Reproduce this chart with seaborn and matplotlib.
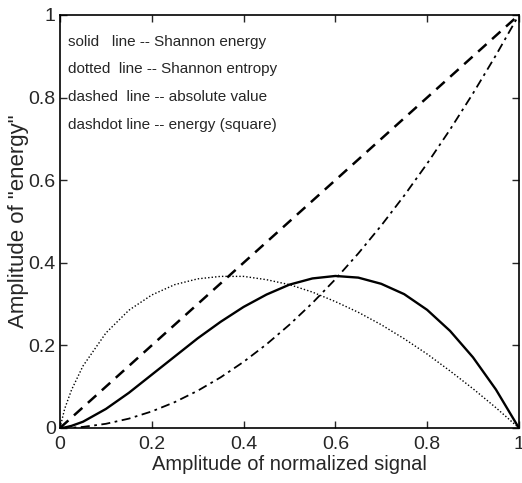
import matplotlib
matplotlib.use("Agg")
import matplotlib.pyplot as plt
import seaborn as sns
import pandas as pd
from matplotlib.ticker import FormatStrFormatter

# values
amplitude = [0, 0.01, 0.025, 0.05, 0.1, 0.15, 0.2, 0.25, 0.3, 0.35, 0.4, 0.45, 0.5,
             0.55, 0.6, 0.65, 0.7, 0.75, 0.8, 0.85, 0.9, 0.95, 1.0]
shannon_energy = [0, 0.001, 0.005, 0.015, 0.046, 0.085, 0.129, 0.173, 0.217, 0.257, 0.293,
                  0.323, 0.347, 0.362, 0.368, 0.364, 0.349, 0.324, 0.286, 0.235, 0.171, 0.093, 0]
shannon_entropy = [0, 0.046, 0.092, 0.150, 0.230, 0.285, 0.322, 0.347, 0.361, 0.367, 0.367,
                   0.359, 0.347, 0.329, 0.306, 0.280, 0.250, 0.216, 0.179, 0.138, 0.095, 0.049, 0]
absolute_value = [0, 0.01, 0.025, 0.05, 0.1, 0.15, 0.2, 0.25, 0.3, 0.35, 0.4, 0.45, 0.5,
                  0.55, 0.6, 0.65, 0.7, 0.75, 0.8, 0.85, 0.9, 0.95, 1.0]
energy_square = [0, 0.0001, 0.0006, 0.0025, 0.01, 0.0225, 0.04, 0.0625, 0.09, 0.1225, 0.16,
                 0.2025, 0.25, 0.3025, 0.36, 0.4225, 0.49, 0.5625, 0.64, 0.7225, 0.81, 0.9025, 1.0]

legend_lines = ["solid   line -- Shannon energy",
                "dotted  line -- Shannon entropy",
                "dashed  line -- absolute value",
                "dashdot line -- energy (square)"]

df = pd.DataFrame({"x": amplitude, "energy": shannon_energy, "entropy": shannon_entropy,
                   "absolute": absolute_value, "square": energy_square})

sns.set_style("ticks")
plt.rcParams["font.family"] = ["Liberation Sans", "DejaVu Sans"]

fig = plt.figure(figsize=(5.22, 4.83), dpi=100)
ax = fig.add_axes([0.115, 0.114, 0.879, 0.855])

sns.lineplot(data=df, x="x", y="energy", ax=ax, color="black", linewidth=1.7, linestyle="-")
sns.lineplot(data=df, x="x", y="entropy", ax=ax, color="black", linewidth=1.0, linestyle=(0, (1, 1.5)))
sns.lineplot(data=df, x="x", y="absolute", ax=ax, color="black", linewidth=1.8, linestyle=(0, (4.5, 3)))
sns.lineplot(data=df, x="x", y="square", ax=ax, color="black", linewidth=1.3, linestyle=(0, (5, 2.5, 1.5, 2.5)))

ax.set_xlim(0, 1)
ax.set_ylim(0, 1)
ax.set_xticks([0, 0.2, 0.4, 0.6, 0.8, 1])
ax.set_yticks([0, 0.2, 0.4, 0.6, 0.8, 1])
ax.xaxis.set_major_formatter(FormatStrFormatter("%g"))
ax.yaxis.set_major_formatter(FormatStrFormatter("%g"))
ax.tick_params(direction="in", top=True, right=True, length=5, width=1, labelsize=14, pad=3)
ax.tick_params(axis="x", pad=6)
for s in ax.spines.values():
    s.set_linewidth(1.2)
    s.set_color("black")

ax.set_xlabel("Amplitude of normalized signal", fontsize=14.5, labelpad=1)
ax.set_ylabel('Amplitude of "energy"', fontsize=16, labelpad=0)

for i, t in enumerate(legend_lines):
    ax.text(0.017, 0.935 - i * 0.067, t, fontsize=11, va="center", ha="left")

fig.savefig("out.png", dpi=100)
